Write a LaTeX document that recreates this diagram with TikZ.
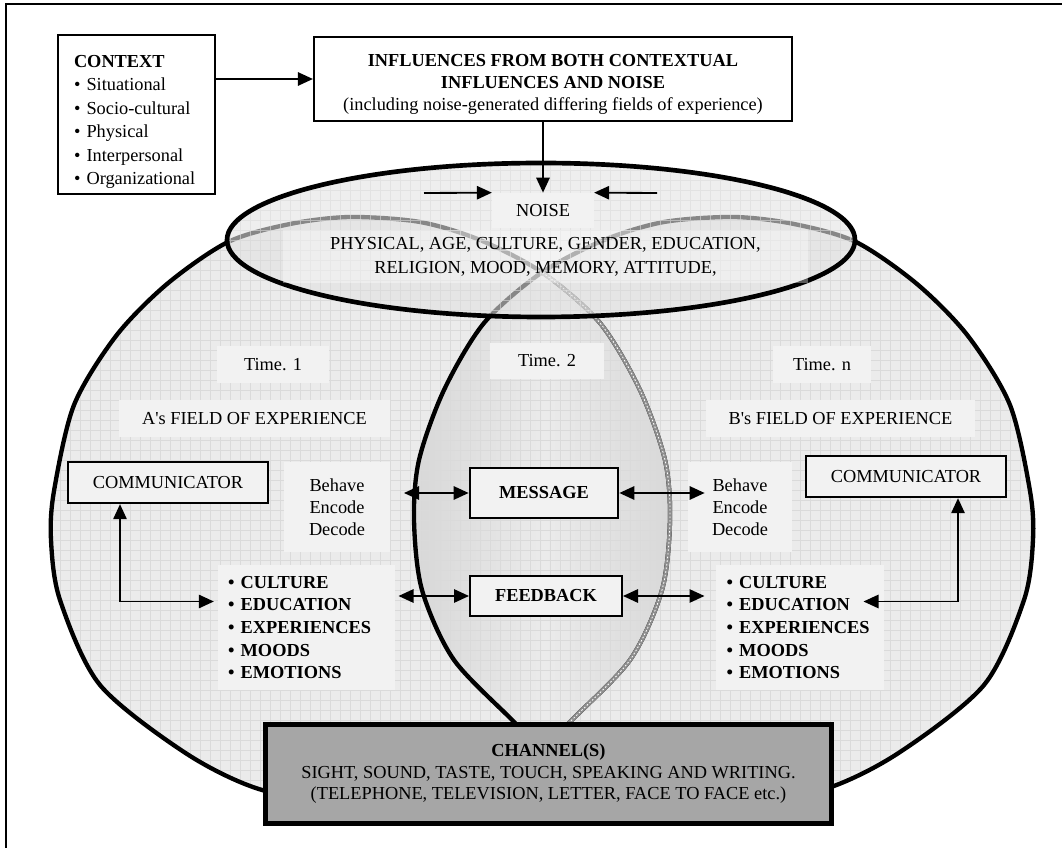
\documentclass[tikz,border=0pt]{standalone}
\usepackage{fontspec}
\setmainfont{Liberation Serif}
\usetikzlibrary{arrows.meta,calc}

\definecolor{softgray}{HTML}{F2F2F2}
\definecolor{fieldgray}{HTML}{EBEBEB}
\definecolor{lensgray}{HTML}{D6D6D6}
\definecolor{gridgray}{HTML}{DADADA}
\definecolor{noisegray}{HTML}{E2E2E2}
\definecolor{changray}{HTML}{A6A6A6}

% outlines of the two fields of experience (pixel coordinates)
\newcommand{\fieldA}{plot[smooth cycle] coordinates {(228,242) (290,224) (350,217) (420,222) (480,240) (543,273) (600,323) (640,390) (665,460) (670,520) (662,590) (630,660) (567,725) (546,752) (450,795) (350,802) (262,790) (187,754) (100,685) (60,600) (51,540) (54,491) (74,405) (116,336) (167,284)}}
\newcommand{\fieldB}{plot[smooth cycle] coordinates {(856,242) (794,224) (734,217) (664,222) (604,240) (541,273) (484,323) (444,390) (419,460) (414,520) (422,590) (454,660) (517,725) (538,752) (634,795) (734,802) (822,790) (897,754) (984,685) (1024,600) (1033,540) (1030,491) (1010,405) (968,336) (917,284)}}

\tikzset{
  softbox/.style={fill=softgray, inner sep=0pt, align=center},
  plainbox/.style={draw, line width=1.1pt, fill=white},
  combox/.style={draw, line width=1.4pt, fill=softgray, minimum width=120pt, minimum height=24.6pt},
  arr/.style={-{Triangle[length=9pt,width=8pt]}, line width=1.1pt},
  dblarr/.style={{Triangle[length=9pt,width=8pt]}-{Triangle[length=9pt,width=8pt]}, line width=1.1pt},
  fieldline/.style={line width=2.6pt},
  hatchline/.style={draw=black!45, line width=2.6pt, postaction={draw=white, line width=0.5pt, dash pattern=on 1pt off 1.2pt}},
  gridline/.style={draw=gridgray, line width=0.3pt},
}

\begin{document}
\begin{tikzpicture}[x=0.6pt,y=-0.6pt, every node/.style={font=\fontsize{11}{13.5}\selectfont}]
\useasboundingbox (0,0) rectangle (1062,848);

% frame
\draw[line width=1.3pt] (6,848) -- (6,4) -- (1062,4);

% fields of experience
\fill[fieldgray] \fieldA;
\fill[fieldgray] \fieldB;
\begin{scope}
  \clip \fieldA;
  \clip \fieldB;
  \shade[left color=lensgray, right color=lensgray, middle color=fieldgray] (405,260) rectangle (685,800);
\end{scope}
\begin{scope}
  \clip \fieldA;
  \draw[gridline] (0,848) grid[step=6pt] (1062,0);
\end{scope}
\begin{scope}
  \clip \fieldB;
  \draw[gridline] (0,848) grid[step=6pt] (1062,0);
\end{scope}
\draw[fieldline] \fieldA;
\draw[fieldline] \fieldB;
\begin{scope}
  \clip \fieldB;
  \draw[hatchline] \fieldA;
\end{scope}

% noise
\fill[noisegray, opacity=0.6] (541,240) ellipse [x radius=314, y radius=77];
\begin{scope}
  \clip (541,240) ellipse [x radius=314, y radius=77];
  \draw[gridline, opacity=0.6] (0,848) grid[step=6pt] (1062,0);
\end{scope}
\draw[line width=2.8pt] (541,240) ellipse [x radius=314, y radius=77];

% boxes
\node[plainbox, align=left, text width=75pt, inner xsep=9.5pt, minimum height=93pt,
  font=\fontsize{11}{14.1}\selectfont] (context) at (136.5,114.5)
  {\rule{0pt}{16pt}\textbf{CONTEXT}\\ \textbullet\ Situational\\ \textbullet\ Socio-cultural\\ \textbullet\ Physical\\ \textbullet\ Interpersonal\\ \textbullet\ Organizational};
\node[plainbox, align=center, minimum width=287pt, minimum height=50pt, inner sep=2pt,
  font=\fontsize{11}{13.2}\selectfont] (influences) at (553,79)
  {\rule{0pt}{13.6pt}\textbf{INFLUENCES FROM BOTH CONTEXTUAL}\\ \textbf{INFLUENCES AND NOISE}\\ (including noise-generated differing fields of experience)};

\node[softbox, minimum width=61pt, minimum height=21pt] (noiselbl) at (543,210.5) {NOISE};
\node[align=center, fill=white, fill opacity=0.35, text opacity=1, inner sep=0pt,
  minimum width=315pt, minimum height=32pt, font=\fontsize{11}{14.4}\selectfont] (noisetxt) at (545.5,256.5)
  {PHYSICAL, AGE, CULTURE, GENDER, EDUCATION,\\ RELIGION, MOOD, MEMORY, ATTITUDE,};
\coordinate (nzL) at (424,193);
\coordinate (nzR) at (657,193);

\node[softbox, minimum width=67pt, minimum height=22pt] (time1) at (273,364.5) {Time. 1};
\node[softbox, minimum width=68pt, minimum height=22pt] (time2) at (547,361) {Time. 2};
\node[softbox, minimum width=59pt, minimum height=22pt] (timen) at (822,364.5) {Time. n};
\node[softbox, minimum width=163pt, minimum height=22pt] (fieldAlbl) at (254.5,418.5) {A\textquotesingle s FIELD OF EXPERIENCE};
\node[softbox, minimum width=161pt, minimum height=22pt] (fieldBlbl) at (840.5,418.5) {B\textquotesingle s FIELD OF EXPERIENCE};

\node[combox] (comA) at (168,482.5) {COMMUNICATOR};
\node[combox] (comB) at (906,476.5) {COMMUNICATOR};
\node[softbox, minimum width=64pt, minimum height=54pt, font=\fontsize{11}{13.2}\selectfont] (behA) at (337,507) {Behave\\Encode\\Decode};
\node[softbox, minimum width=62pt, minimum height=54pt, font=\fontsize{11}{13.2}\selectfont] (behB) at (740,507) {Behave\\Encode\\Decode};
\node[combox, minimum width=89pt, minimum height=30pt, font=\fontsize{11}{13.5}\bfseries] (msg) at (544,493) {MESSAGE};
\node[combox, minimum width=91pt, minimum height=24pt, font=\fontsize{11}{13.5}\bfseries] (fb) at (546,596) {FEEDBACK};

\node[softbox, align=left, text width=94pt, inner xsep=6pt, minimum height=75pt,
  font=\fontsize{11}{13.6}\bfseries] (listA) at (306.5,627.5)
  {\textbullet\ CULTURE\\ \textbullet\ EDUCATION\\ \textbullet\ EXPERIENCES\\ \textbullet\ MOODS\\ \textbullet\ EMOTIONS};
\node[softbox, align=left, text width=88pt, inner xsep=6.5pt, minimum height=75pt,
  font=\fontsize{11}{13.6}\bfseries] (listB) at (800,627.5)
  {\textbullet\ CULTURE\\ \textbullet\ EDUCATION\\ \textbullet\ EXPERIENCES\\ \textbullet\ MOODS\\ \textbullet\ EMOTIONS};

\node[draw, line width=3pt, fill=changray, align=center, minimum width=340pt, minimum height=59pt,
  font=\fontsize{11}{12.9}\selectfont] (channel) at (548.5,774)
  {\textbf{CHANNEL(S)}\\ SIGHT, SOUND, TASTE, TOUCH, SPEAKING AND WRITING.\\ (TELEPHONE, TELEVISION, LETTER, FACE TO FACE etc.)};

% connectors
\draw[arr] (context.east |- influences.west) -- (influences.west);
\draw[arr] (influences.south -| noiselbl.north) -- (noiselbl.north);
\draw[arr] (nzL) -- (noiselbl.north west);
\draw[arr] (nzR) -- (noiselbl.north east);
\draw[dblarr, shorten <=8pt] (msg.west -| behA.east) -- (msg.west);
\draw[dblarr, shorten >=-10pt] (msg.east) -- (msg.east -| behB.west);
\draw[dblarr, shorten <=2pt] (fb.west -| listA.east) -- (fb.west);
\draw[dblarr, shorten >=6.6pt] (fb.east) -- (fb.east -| listB.west);
\draw[dblarr] ($(comA.south)+(-48,0)$) |- ($(listA.west)+(-4,-26)$);
\draw[dblarr] ($(comB.south)+(52,0)$) |- ($(listB.east)+(-21,-26)$);

\end{tikzpicture}
\end{document}
